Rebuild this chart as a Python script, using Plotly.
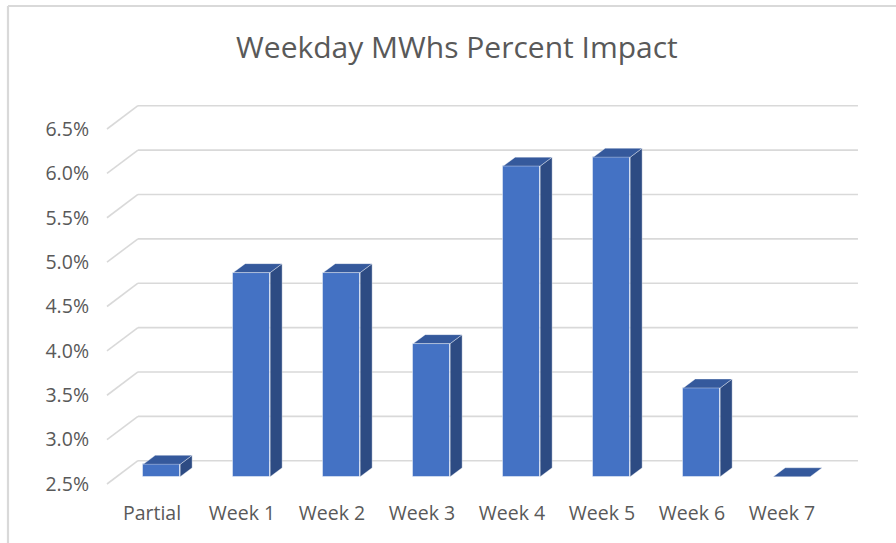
import plotly.graph_objects as go

# chart data
categories = ["Partial", "Week 1", "Week 2", "Week 3", "Week 4", "Week 5", "Week 6", "Week 7"]
impact_pct = [2.64, 4.80, 4.80, 4.00, 6.00, 6.10, 3.50, 2.50]
tick_vals = [2.5, 3.0, 3.5, 4.0, 4.5, 5.0, 5.5, 6.0, 6.5]
tick_text = ["2.5%", "3.0%", "3.5%", "4.0%", "4.5%", "5.0%", "5.5%", "6.0%", "6.5%"]

y_min = 2.5
# oblique 3D look, offsets in axis units
wall_dx, wall_dy = 0.344, 0.2625    # floor front -> back wall
bar_dx, bar_dy = 0.108, 0.082       # floor front -> bar front face
depth_dx, depth_dy = 0.133, 0.101   # bar front -> bar back
bar_w = 0.41

front_col = "#4472C4"
side_col = "#2D4B83"
top_col = "#35599C"
edge_col = "rgba(255,255,255,0.45)"
grid_col = "#D9D9D9"
text_col = "#595959"
font_name = "Open Sans"

fig = go.Figure()

# front faces
fig.add_trace(go.Bar(
    x=[i + bar_dx for i in range(len(categories))],
    y=[v - y_min for v in impact_pct],
    base=y_min + bar_dy,
    width=bar_w,
    marker=dict(color=front_col, line=dict(color=edge_col, width=1)),
    hoverinfo="skip",
    showlegend=False,
))

# side and top faces
for i, v in enumerate(impact_pct):
    xl = i + bar_dx - bar_w / 2
    xr = i + bar_dx + bar_w / 2
    b = y_min + bar_dy
    t = v + bar_dy
    fig.add_trace(go.Scatter(
        x=[xr, xr + depth_dx, xr + depth_dx, xr, xr],
        y=[b, b + depth_dy, t + depth_dy, t, b],
        fill="toself", fillcolor=side_col, mode="lines",
        line=dict(color=edge_col, width=0.8),
        hoverinfo="skip", showlegend=False,
    ))
    fig.add_trace(go.Scatter(
        x=[xl, xl + depth_dx, xr + depth_dx, xr, xl],
        y=[t, t + depth_dy, t + depth_dy, t, t],
        fill="toself", fillcolor=top_col, mode="lines",
        line=dict(color=edge_col, width=0.8),
        hoverinfo="skip", showlegend=False,
    ))

# gridlines on side and back walls
x_front_left = -0.5
x_back_right = len(categories) - 0.5 + wall_dx
for tv in tick_vals:
    fig.add_shape(type="line", layer="below", xref="x", yref="y",
                  x0=x_front_left, y0=tv, x1=x_front_left + wall_dx, y1=tv + wall_dy,
                  line=dict(color=grid_col, width=1.6))
    fig.add_shape(type="line", layer="below", xref="x", yref="y",
                  x0=x_front_left + wall_dx, y0=tv + wall_dy, x1=x_back_right, y1=tv + wall_dy,
                  line=dict(color=grid_col, width=1.6))

# chart border (left and top edges visible)
fig.add_shape(type="line", xref="paper", yref="paper",
              x0=-0.1195, y0=1.2049, x1=-0.1195, y1=-0.3,
              line=dict(color=grid_col, width=2.2))
fig.add_shape(type="line", xref="paper", yref="paper",
              x0=-0.1195, y0=1.2049, x1=1.2, y1=1.2049,
              line=dict(color=grid_col, width=2.2))

fig.update_layout(
    width=896, height=543,
    margin=dict(l=100, r=26, t=90, b=43),
    paper_bgcolor="white", plot_bgcolor="white",
    font=dict(family=font_name, color=text_col, size=19.5),
    title=dict(text="Weekday MWhs Percent Impact", x=0.51, xanchor="center",
               y=0.913, yanchor="middle",
               font=dict(family=font_name, size=30, color=text_col)),
    bargap=0,
    showlegend=False,
)
fig.update_xaxes(range=[-0.5778, 7.9778], tickvals=list(range(len(categories))),
                 ticktext=categories, showgrid=False, zeroline=False,
                 showline=False, ticks="", ticklabelstandoff=-1, fixedrange=True)
fig.update_yaxes(range=[2.3197, 6.9394], tickvals=tick_vals, ticktext=tick_text,
                 showgrid=False, zeroline=False, showline=False, ticks="",
                 ticklabelstandoff=10, fixedrange=True)

fig.write_html("out.html", config={"displayModeBar": False},
               post_script="document.body.style.margin='0';")
